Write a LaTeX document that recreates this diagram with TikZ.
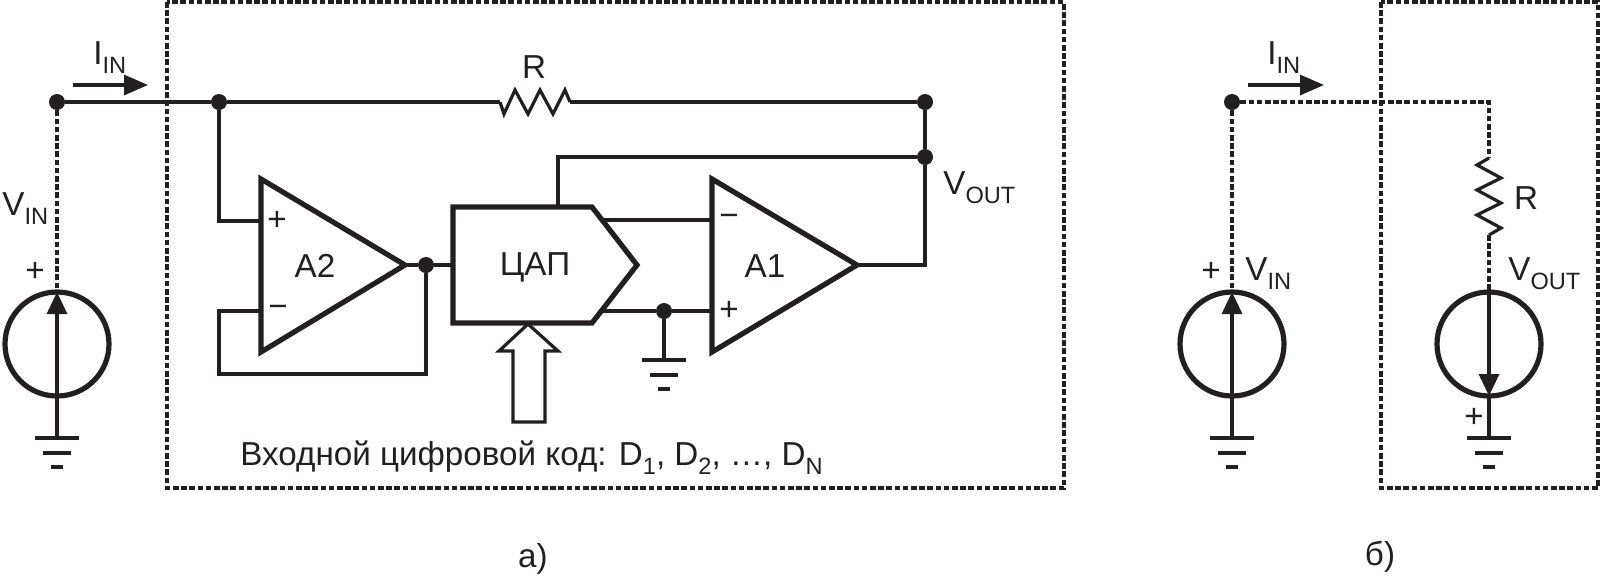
\documentclass[tikz,border=0pt]{standalone}
\usepackage{fontspec}
\setmainfont{Liberation Sans}
\usepackage{xcolor}
\usetikzlibrary{arrows.meta}
\definecolor{inkc}{HTML}{231F20}
\newcommand{\lowsub}[1]{\raisebox{-4.5pt}{\fontsize{11.8}{11.8}\selectfont #1}}
\tikzset{
  wire/.style={line width=1.6pt, color=inkc},
  dashwire/.style={wire, dash pattern=on 2.8pt off 1.3pt},
  heavy/.style={line width=2.6pt, color=inkc, line join=miter},
  dot/.style={circle, fill=inkc, inner sep=0pt, minimum size=8pt},
  source/.style={draw=inkc, circle, line width=2.6pt, inner sep=0pt, outer sep=0pt, minimum size=52pt},
  lbl/.style={inner sep=0pt, text=inkc, font=\fontsize{16.6}{16.6}\selectfont},
  lblw/.style={lbl, anchor=base west},
  gnd/.pic={
    \draw[wire] (-22,0) -- (22,0);
    \draw[wire] (-14,15) -- (14,15);
    \draw[wire] (-6,29) -- (6,29);
  },
  tipsrc/.style={-{Triangle[length=11pt, width=10pt]}},
  tipcur/.style={-{Triangle[length=12pt, width=10pt]}},
}

\begin{document}
\begin{tikzpicture}[x=0.5pt, y=-0.5pt]
  \useasboundingbox (0,0) rectangle (1600,575);

  % Nodes
  \node[dot] (va) at (57, 102) {};
  \node[dot] (vb) at (219, 102) {};
  \node[dot] (vc) at (925, 102) {};
  \node[dot] (vd) at (925, 157) {};
  \node[dot] (ve) at (426, 265) {};
  \node[dot] (vf) at (664, 311) {};
  \node[dot] (vg) at (1232, 102) {};

  \node[source] (s1) at (57, 344) {};
  \node[source] (s2) at (1232, 344) {};
  \node[source] (s3) at (1489, 344) {};

  \coordinate (g1) at (57, 438);
  \coordinate (g2) at (664, 360);
  \coordinate (g3) at (1232, 438);
  \coordinate (g4) at (1489, 438);
  \coordinate (ra) at (500, 102);
  \coordinate (rb) at (570, 102);
  \coordinate (rc) at (1489, 158);
  \coordinate (rd) at (1489, 235);
  \coordinate (ce) at (1489, 102);

  \coordinate (a2p) at (261, 221);
  \coordinate (a2n) at (261, 311);
  \coordinate (a2o) at (405, 265);
  \coordinate (a1n) at (712, 220);
  \coordinate (a1p) at (712, 311);
  \coordinate (a1o) at (857, 265);
  \coordinate (dacin) at (453, 265);
  \coordinate (dactop) at (558, 207);
  \coordinate (dacu) at (603, 220);
  \coordinate (dacl) at (603, 311);

  % Boxes
  \draw[dashwire] (167, 2) rectangle (1064, 488);
  \draw[dashwire] (1381, 2) rectangle (1598, 488);

  % Amplifiers and DAC
  \draw[heavy] (261, 179) -- (a2o) -- (261, 352) -- cycle;
  \draw[heavy] (712, 179) -- (a1o) -- (712, 352) -- cycle;
  \draw[heavy] (453, 207) -- (592, 207) -- (637, 265) -- (592, 323) -- (453, 323) -- cycle;
  \draw[wire, line join=miter] (528, 324) -- (558, 351) -- (545, 351) -- (545, 422) -- (513, 422) -- (513, 351) -- (499, 351) -- cycle;

  % Edges
  \draw[wire] (va) -- (vb) -- (ra);
  \draw[wire] (ra) -- ++(4, 12) -- ++(11, -24) -- ++(13, 24) -- ++(12, -24) -- ++(13, 24) -- ++(12, -24) -- (rb);
  \draw[wire] (rb) -- (vc) -- (vd);
  \draw[wire] (dactop) -- (dactop |- vd) -- (vd);
  \draw[wire] (vb) |- (a2p);
  \draw[wire] (a2n) -| (219, 374) -| (ve);
  \draw[wire] (a2o) -- (ve) -- (dacin);
  \draw[wire] (dacu) -- (a1n);
  \draw[wire] (dacl) -- (vf) -- (a1p);
  \draw[wire] (vf) -- (g2);
  \draw[wire] (a1o) -| (vd);

  \draw[dashwire] (va) -- (s1.north);
  \draw[wire, tipsrc] (g1) -- (s1.north);
  \draw[dashwire] (vg) -- (ce) -- (rc);
  \draw[wire] (rc) -- ++(-12, 7) -- ++(24, 13) -- ++(-24, 12) -- ++(24, 13) -- ++(-24, 12) -- ++(24, 13) -- (rd);
  \draw[dashwire] (rd) -- (s3.north);
  \draw[dashwire] (vg) -- (s2.north);
  \draw[wire, tipsrc] (g3) -- (s2.north);
  \draw[wire, tipsrc] (s3.north) -- (s3.south);
  \draw[wire] (s3.south) -- (g4);

  % Grounds
  \pic at (g1) {gnd};
  \pic at (g2) {gnd};
  \pic at (g3) {gnd};
  \pic at (g4) {gnd};

  % Current arrows
  \coordinate (i1a) at (73, 85);
  \coordinate (i1b) at (148, 85);
  \coordinate (i2a) at (1248, 85);
  \coordinate (i2b) at (1324, 85);
  \draw[wire, tipcur] (i1a) -- (i1b);
  \draw[wire, tipcur] (i2a) -- (i2b);

  % Labels
  \node[lblw] (iin1) at (93, 64) {I\lowsub{IN}};
  \node[lblw] (iin2) at (1267, 64) {I\lowsub{IN}};
  \node[lblw] (vin1) at (2, 215) {V\lowsub{IN}};
  \node[lblw] (vin2) at (1245, 280) {V\lowsub{IN}};
  \node[lblw] (vout1) at (943, 194) {V\lowsub{OUT}};
  \node[lblw] (vout2) at (1508, 280) {V\lowsub{OUT}};
  \node[lbl] (r1) at (534, 67) {R};
  \node[lbl] (r2) at (1526, 198) {R};
  \node[lbl] (a2) at (315, 266) {A2};
  \node[lbl] (a1) at (765, 266) {A1};
  \node[lbl] (dac) at (535, 267) {ЦАП};
  \node[lbl] (pa2) at (277, 221) {+};
  \node[lbl] (ma2) at (278, 311) {−};
  \node[lbl] (ma1) at (729, 220) {−};
  \node[lbl] (pa1) at (729, 311) {+};
  \node[lbl] (ps1) at (35, 272) {+};
  \node[lbl] (ps2) at (1211, 272) {+};
  \node[lbl] (ps3) at (1474, 418) {+};
  \node[lblw] (code) at (240, 465) {Входной цифровой код: D\lowsub{1}, D\lowsub{2}, …, D\lowsub{N}};
  \node[lbl] (capa) at (533, 559) {а)};
  \node[lbl] (capb) at (1380, 557) {б)};
\end{tikzpicture}
\end{document}
